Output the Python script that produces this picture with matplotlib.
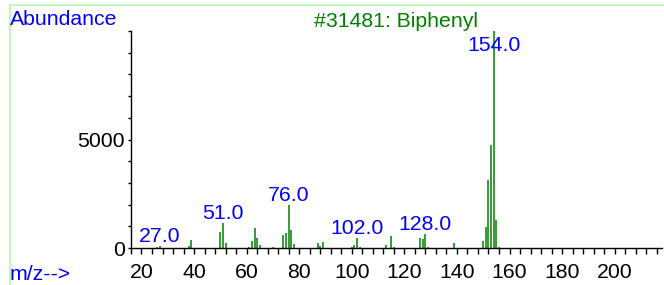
import numpy as np
import matplotlib
matplotlib.use("Agg")
import matplotlib.pyplot as plt
from matplotlib.lines import Line2D
from matplotlib.ticker import MultipleLocator

# ----------------------------
# Spectrum data (m/z, abundance)
# ----------------------------

mz = [26, 27, 38, 39, 50, 51, 52, 61, 62, 63, 64, 65, 70, 74, 75, 76, 77, 78,
      87, 88, 89, 100, 101, 102, 103, 113, 115, 116, 126, 127, 128, 129, 139,
      150, 151, 152, 153, 154, 155, 156]
abundance = [50, 100, 90, 390, 720, 1130, 240, 60, 340, 900, 450, 140, 30, 600,
             670, 1970, 830, 170, 240, 90, 290, 60, 140, 470, 40, 140, 560, 40,
             470, 410, 630, 40, 230, 320, 980, 3120, 4760, 9999, 1280, 60]

labeled_peaks = [27, 51, 76, 102, 128, 154]

x_ticks = list(range(20, 201, 20))
y_ticks = [0, 5000]

title = "#31481: Biphenyl"

# ----------------------------
# Figure
# ----------------------------

plt.rcParams['font.family'] = ['Liberation Sans', 'DejaVu Sans']

W, H = 664, 285
fig = plt.figure(figsize=(W/100, H/100), dpi=100)
ax = fig.add_axes([130.7/W, 1 - 248/H, (662 - 130.7)/W, 217/H])

ax.vlines(mz, 0, abundance, color="#008000", lw=1.1)

ax.set_xlim(15.9, 218.0)
ax.set_ylim(0, 10000)

for sp in ["top", "right"]:
    ax.spines[sp].set_visible(False)
for sp in ["left", "bottom"]:
    ax.spines[sp].set_linewidth(1.0)
    ax.spines[sp].set_color("black")

ax.set_xticks(x_ticks)
ax.xaxis.set_minor_locator(MultipleLocator(4))
ax.set_yticks(y_ticks)
ax.yaxis.set_minor_locator(MultipleLocator(1000))

ax.tick_params(axis="x", which="both", length=4.5, width=1, direction="out",
               labelsize=15.3, pad=6.5)
ax.tick_params(axis="y", which="both", length=2.5, width=1, direction="out",
               labelsize=15.3, pad=1.5)

# peak labels
ymax = ax.get_ylim()[1]
for m in labeled_peaks:
    h = abundance[mz.index(m)]
    if h > 0.9*ymax:
        ax.annotate(f"{m:.1f}", xy=(m, ymax), xytext=(0, -20),
                    textcoords="offset pixels", ha="center", va="baseline",
                    color="#0000ff", fontsize=15.3, annotation_clip=False)
    else:
        ax.annotate(f"{m:.1f}", xy=(m, h), xytext=(0, 4),
                    textcoords="offset pixels", ha="center", va="baseline",
                    color="#0000ff", fontsize=15.3, annotation_clip=False)

# texts
fig.text(10/W, 1 - 25/H, "Abundance", color="#0000ff", fontsize=15.3,
         ha="left", va="baseline")
fig.text(396/W, 1 - 27/H, title, color="#008000", fontsize=15.3,
         ha="center", va="baseline")
fig.text(10/W, 1 - 280/H, "m/z-->", color="#0000ff", fontsize=15.3,
         ha="left", va="baseline")

# light green frame (top and left)
fig.add_artist(Line2D([9.5/W, 1], [1 - 5/H, 1 - 5/H], color="#c0f8c0", lw=1.5,
                      transform=fig.transFigure))
fig.add_artist(Line2D([9.5/W, 9.5/W], [0, 1 - 5/H], color="#c0f8c0", lw=1.5,
                      transform=fig.transFigure))

fig.savefig("out.png", dpi=100)
